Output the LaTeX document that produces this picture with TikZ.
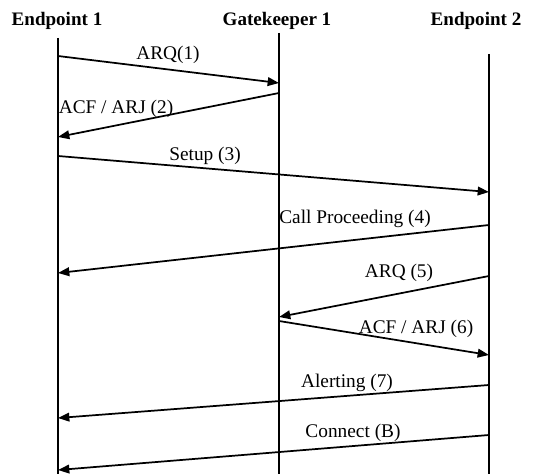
\documentclass[tikz,border=0pt]{standalone}
\usepackage{fontspec}
\setmainfont{Liberation Serif}
\usetikzlibrary{arrows.meta}

\tikzset{
	lifeline/.style={line width=1.4pt},
	msg/.style={line width=1.3pt, -{Triangle[length=8.5pt, width=6.5pt]}},
	msglabel/.style={inner sep=0pt, font=\fontsize{14.5}{16}\selectfont},
	party/.style={inner sep=0pt, font=\fontsize{14.3}{16}\selectfont\bfseries},
}

\begin{document}
\begin{tikzpicture}[
x=0.75pt,
y=-0.75pt,
]
	\useasboundingbox (0,0) rectangle (536,474);
	
	%%%%%%%%%%%%%%%%%%%%%%%%%%%%
	%Teilnehmer und Lebenslinien
	%%%%%%%%%%%%%%%%%%%%%%%%%%%%
	
	\node [party] (ep1) at (57,21) {Endpoint 1};
	\node [party] (gk1) at (277,21) {Gatekeeper 1};
	\node [party] (ep2) at (476,21) {Endpoint 2};
	
	\coordinate (ep1top) at (58,38);
	\coordinate (ep1bot) at (58,474);
	\coordinate (gk1top) at (279,33);
	\coordinate (gk1bot) at (279,474);
	\coordinate (ep2top) at (489,54);
	\coordinate (ep2bot) at (489,474);
	
	\draw [lifeline] (ep1top) -- (ep1bot);
	\draw [lifeline] (gk1top) -- (gk1bot);
	\draw [lifeline] (ep2top) -- (ep2bot);
	
	%%%%%%%%%%%%%%%%%%%%%%%%%%%%
	%Nachrichten
	%%%%%%%%%%%%%%%%%%%%%%%%%%%%
	
	\coordinate (arq1a) at (58,56);
	\coordinate (arq1b) at (279,83);
	\draw [msg] (arq1a) -- (arq1b);
	\node [msglabel] (arq1) at (168,55) {ARQ(1)};
	
	\coordinate (acf2a) at (279,93);
	\coordinate (acf2b) at (58,137);
	\draw [msg] (acf2a) -- (acf2b);
	\node [msglabel] (acf2) at (116,109) {ACF / ARJ (2)};
	
	\coordinate (setup3a) at (58,156);
	\coordinate (setup3b) at (489,192);
	\draw [msg] (setup3a) -- (setup3b);
	\node [msglabel] (setup3) at (205,156) {Setup (3)};
	
	\coordinate (proc4a) at (489,225);
	\coordinate (proc4b) at (58,273);
	\draw [msg] (proc4a) -- (proc4b);
	\node [msglabel] (proc4) at (355,219) {Call Proceeding (4)};
	
	\coordinate (arq5a) at (489,276);
	\coordinate (arq5b) at (279,317);
	\draw [msg] (arq5a) -- (arq5b);
	\node [msglabel] (arq5) at (399,273) {ARQ (5)};
	
	\coordinate (acf6a) at (279,321);
	\coordinate (acf6b) at (489,355);
	\draw [msg] (acf6a) -- (acf6b);
	\node [msglabel] (acf6) at (416,329) {ACF / ARJ (6)};
	
	\coordinate (alert7a) at (489,385);
	\coordinate (alert7b) at (58,418);
	\draw [msg] (alert7a) -- (alert7b);
	\node [msglabel] (alert7) at (347,383) {Alerting (7)};
	
	\coordinate (conn8a) at (489,435);
	\coordinate (conn8b) at (58,470);
	\draw [msg] (conn8a) -- (conn8b);
	\node [msglabel] (conn8) at (353,433) {Connect (B)};
	
\end{tikzpicture}
\end{document}
